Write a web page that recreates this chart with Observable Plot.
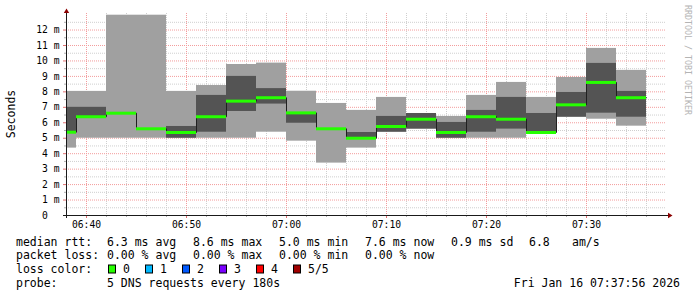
<!DOCTYPE html>
<html><head><meta charset="utf-8">
<script src="https://cdn.jsdelivr.net/npm/d3@7"></script>
<script src="https://cdn.jsdelivr.net/npm/@observablehq/plot@0.6"></script>
<style>
html,body{margin:0;padding:0;background:#fff;}
#wrap{position:relative;width:697px;height:297px;overflow:hidden;background:#fff;}
#wrap svg{position:absolute;left:0;top:0;}
</style></head><body><div id="wrap"></div>
<script>
// ---- data ----
const binStart = ["06:38","06:39","06:42","06:45","06:48","06:51","06:54","06:57","07:00","07:03","07:06","07:09","07:12","07:15","07:18","07:21","07:24","07:27","07:30","07:33"];
const binEnd   = ["06:39","06:42","06:45","06:48","06:51","06:54","06:57","07:00","07:03","07:06","07:09","07:12","07:15","07:18","07:21","07:24","07:27","07:30","07:33","07:36"];
const smokeMin = [4.36,5.0,5.0,5.0,5.0,5.0,5.0,5.39,4.81,3.39,4.36,5.39,5.59,5.0,5.0,5.0,5.37,6.36,6.23,5.78];
const smokeLow = [5.37,6.39,6.62,5.61,5.0,5.39,6.73,7.21,5.97,5.61,5.0,5.39,5.59,5.0,5.39,5.59,5.37,6.36,6.62,6.36];
const medianRtt= [5.39,6.39,6.62,5.61,5.37,6.39,7.40,7.62,6.64,5.61,5.0,5.76,6.23,5.37,6.39,6.23,5.37,7.16,8.61,7.62];
const smokeHigh= [7.0,7.0,6.62,5.61,5.76,7.77,9.0,8.21,6.64,5.61,5.37,6.41,6.60,6.02,6.80,7.64,6.60,7.96,9.84,8.03];
const smokeMax = [8.03,8.03,12.96,12.96,8.03,8.41,9.77,9.86,8.04,7.25,6.80,7.64,6.60,6.41,7.77,8.61,7.64,8.93,10.81,9.39];

const xTickLabels = ["06:40","06:50","07:00","07:10","07:20","07:30"];
const yTickValues = [0,1,2,3,4,5,6,7,8,9,10,11,12];
const timeDomain = ["06:38","07:38"];

const legendRtt  = ["6.3 ms avg","8.6 ms max","5.0 ms min","7.6 ms now","0.9 ms sd","6.8","am/s"];
const legendLoss = ["0.00 % avg","0.00 % max","0.00 % min","0.00 % now"];
const lossLabels = ["0","1","2","3","4","5/5"];
const lossColors = ["#26ff00","#00b8ff","#0059ff","#7a00ff","#ff0000","#a00000"];
const probeText = "5 DNS requests every 180s";
const dateText = "Fri Jan 16 07:37:56 2026";

// ---- build ----
const T = s => { const [h,m] = s.split(":").map(Number); return new Date(Date.UTC(2026,0,16,h,m)); };
const bins = binStart.map((s,i)=>({start:T(s), end:T(binEnd[i]), min:smokeMin[i], lo:smokeLow[i], med:medianRtt[i], hi:smokeHigh[i], max:smokeMax[i]}));
const medPts = bins.flatMap(b=>[{t:b.start,v:b.med},{t:b.end,v:b.med}]);
const t0 = T(timeDomain[0]), t1 = T(timeDomain[1]);
const xMajor = xTickLabels.map(T);
const xMinor = d3.utcMinute.every(2).range(t0, t1).filter(d => d.getUTCMinutes() % 10 !== 0 && +d !== +t0);
const yMinor = d3.range(0.5, 13.01, 1);
const yMajor = yTickValues.filter(v => v > 0);
const GRID = "#cfcfcf", MGRID = "#f39c9c";

const plot = Plot.plot({
  width: 697, height: 232,
  marginLeft: 66, marginRight: 31, marginTop: 13, marginBottom: 17,
  style: {fontFamily: "'DejaVu Sans Mono', monospace", fontSize: "9.7px", color: "#000", background: "transparent", overflow: "visible"},
  x: {type: "utc", domain: [t0, t1], label: null},
  y: {domain: [0, 13.07], label: null},
  marks: [
    Plot.ruleY(yMinor, {stroke: GRID, strokeDasharray: "1,1"}),
    Plot.ruleX(xMinor, {stroke: GRID, strokeDasharray: "1,1"}),
    Plot.ruleY(yMajor, {stroke: MGRID, strokeDasharray: "1,1"}),
    Plot.ruleX(xMajor, {stroke: MGRID, strokeDasharray: "1,1"}),
    Plot.rect(bins, {x1: "start", x2: "end", y1: "min", y2: "max", fill: "#a0a0a0"}),
    Plot.rect(bins, {x1: "start", x2: "end", y1: "lo", y2: "hi", fill: "#545454"}),
    Plot.line(medPts, {x: "t", y: "v", stroke: "#202020", strokeWidth: 1}),
    Plot.ruleY(bins, {x1: "start", x2: "end", y: "med", stroke: lossColors[0], strokeWidth: 3}),
    Plot.axisX(xMinor, {tickSize: 2, tickFormat: () => "", stroke: "#b0b0b0", label: null}),
    Plot.axisX(xMajor, {tickSize: 3, tickPadding: 3, tickFormat: d3.utcFormat("%H:%M"), stroke: "#e07070", fill: "#000", label: null}),
    Plot.axisY(yMinor, {tickSize: 2, tickFormat: () => "", stroke: "#b0b0b0", label: null}),
    Plot.axisY(yTickValues, {tickSize: 3, tickPadding: 4, tickFormat: d => d === 0 ? "0\u00a0\u00a0" : d + " m", stroke: "#e07070", fill: "#000", label: null}),
    Plot.ruleY([0], {stroke: "#1a1a1a", insetLeft: -3, insetRight: -3}),
    Plot.ruleX([t0], {stroke: "#1a1a1a", insetBottom: -3, insetTop: -2})
  ]
});
const wrap = document.getElementById("wrap");
wrap.appendChild(plot);

// arrows at axis ends, placed through the plot's scales
const sx = plot.scale("x"), sy = plot.scale("y");
const ax = sx.apply(t0) + 0.5, ay = sy.apply(0) + 0.5, xr = sx.apply(t1), yt = sy.apply(13.07);
const ps = d3.select(plot);
ps.append("polygon").attr("points", `${ax-2.7},${yt} ${ax+2.7},${yt} ${ax},${yt-4.5}`).attr("fill", "#8b0000");
ps.append("polygon").attr("points", `${xr+2},${ay-2.7} ${xr+2},${ay+2.7} ${xr+6.5},${ay}`).attr("fill", "#8b0000");

// overlay: legend, axis title, credit
const ov = d3.select(wrap).append("svg").attr("width", 697).attr("height", 297)
  .style("font-family", "'DejaVu Sans Mono', monospace").style("font-size", "11.5px").style("pointer-events", "none");
ov.append("text").attr("transform", "translate(15,114) rotate(-90)").attr("text-anchor", "middle").text("Seconds");
ov.append("text").attr("transform", "translate(685,5) rotate(90)").attr("fill", "#b4b4b4").style("font-size", "8.3px").text("RRDTOOL / TOBI OETIKER");

const cols = [107,193,279,365,451,529,572];
const b1 = 245.7, b2 = 259, b3 = 273.2, b4 = 286.6;
ov.append("text").attr("x", 16).attr("y", b1).text("median rtt:");
legendRtt.forEach((s,i)=>ov.append("text").attr("x", cols[i]).attr("y", b1).text(s));
ov.append("text").attr("x", 16).attr("y", b2).text("packet loss:");
legendLoss.forEach((s,i)=>ov.append("text").attr("x", cols[i]).attr("y", b2).text(s));
ov.append("text").attr("x", 16).attr("y", b3).text("loss color:");
lossLabels.forEach((s,i)=>{
  ov.append("rect").attr("x", 108.5 + 37*i).attr("y", 265).attr("width", 7).attr("height", 8)
    .attr("fill", lossColors[i]).attr("stroke", "#000").attr("stroke-width", 1);
  ov.append("text").attr("x", 123 + 37*i).attr("y", b3).text(s);
});
ov.append("text").attr("x", 16).attr("y", b4).text("probe:");
ov.append("text").attr("x", 107).attr("y", b4).text(probeText);
ov.append("text").attr("x", 680).attr("y", b4).attr("text-anchor", "end").text(dateText);
</script></body></html>
